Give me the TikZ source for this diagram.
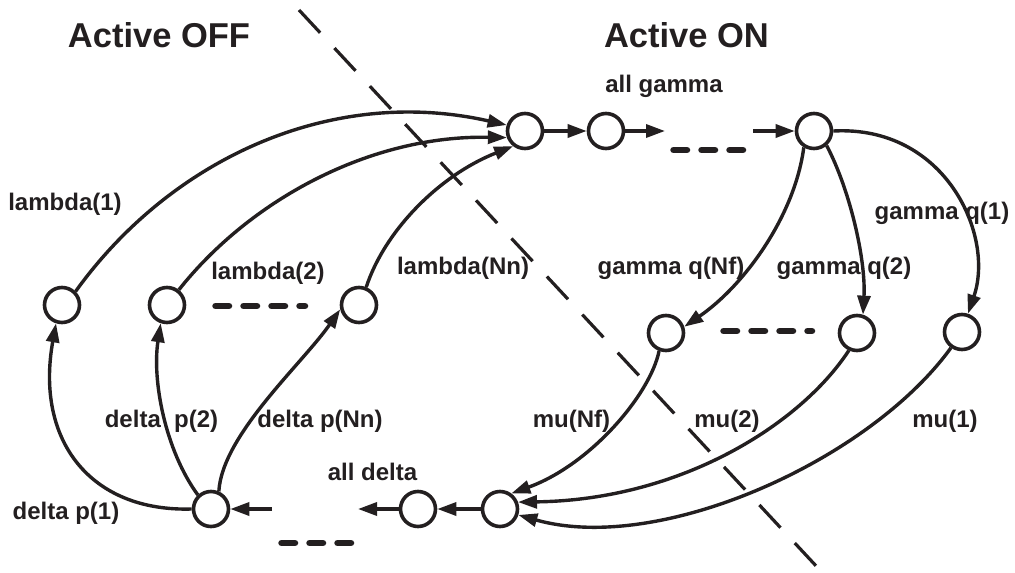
\documentclass[tikz,border=0pt]{standalone}
\usepackage{fontspec}
\setmainfont{Liberation Sans}
\usetikzlibrary{arrows.meta}
\definecolor{ink}{RGB}{35,31,32}
\begin{document}
\begin{tikzpicture}[x=1pt,y=-1pt,
  state/.style={circle,draw=ink,line width=3.6pt,minimum size=35pt,inner sep=0pt},
  flow/.style={draw=ink,line width=3.4pt,-{Triangle[length=19pt,width=13pt]}},
  gapdash/.style={draw=ink,line width=6.5pt,line cap=round,dash pattern=on 13.5pt off 14.5pt},
  divider/.style={draw=ink,line width=3.2pt,dash pattern=on 31pt off 21pt},
  lbl/.style={anchor=base,inner sep=0pt,text=ink,font=\fontsize{24}{28}\selectfont\bfseries},
  title/.style={anchor=base,inner sep=0pt,text=ink,font=\fontsize{34.5}{40}\selectfont\bfseries}]
\useasboundingbox (0,0) rectangle (1015,573);

% boundary between the two regimes
\coordinate (divTop) at (299,10);
\coordinate (divBot) at (818,568);
\draw[divider] (divTop) -- (divBot);

% states
\node[state] (A)   at (525,131) {};
\node[state] (B)   at (606,131) {};
\node[state] (C)   at (814,131) {};
\node[state] (L1)  at (62,305)  {};
\node[state] (L2)  at (167,305) {};
\node[state] (Ln)  at (359,305) {};
\node[state] (Fnf) at (666,333) {};
\node[state] (F2)  at (857,333) {};
\node[state] (F1)  at (962,332) {};
\node[state] (D)   at (211,509) {};
\node[state] (E)   at (418,509) {};
\node[state] (G)   at (500,509) {};

\coordinate (gEnd)   at (665,131);
\coordinate (gStart) at (753,131);
\coordinate (dEnd)   at (358,509);
\coordinate (dStart) at (272,509);

% chains of states
\draw[flow] (A) -- (B);
\draw[flow] (B) -- (gEnd);
\draw[flow] (gStart) -- (C);
\draw[flow] (G) -- (E);
\draw[flow] (E) -- (dEnd);
\draw[flow] (dStart) -- (D);

% omitted states
\draw[gapdash] (673.5,150) -- (743.5,150);
\draw[gapdash] (215.5,306) -- (305,306);
\draw[gapdash] (723.5,331) -- (812,331);
\draw[gapdash] (281.5,543) -- (351.5,543);

% OFF -> ON transitions
\draw[flow] (L1.45) .. controls (170,160) and (330,85) .. (A.162);
\draw[flow] (L2.52) .. controls (250,200) and (370,135) .. (A.200);
\draw[flow] (Ln.68) .. controls (385,230) and (440,175) .. (A.232);

% branching to the ON states
\draw[flow] (C.238) .. controls (795,215) and (745,285) .. (Fnf.19);
\draw[flow] (C.311) .. controls (850,190) and (866,260) .. (F2.72);
\draw[flow] (C.0) .. controls (945,125) and (995,235) .. (F1.72);

% ON -> OFF transitions
\draw[flow] (Fnf.249) .. controls (650,395) and (590,465) .. (G.54);
\draw[flow] (F2.245) .. controls (800,425) and (680,500) .. (G.21);
\draw[flow] (F1.235) .. controls (870,460) and (660,555) .. (G.342);

% branching to the OFF states
\draw[flow] (D.west) .. controls (90,512) and (35,440) .. (L1.252);
\draw[flow] (D.133) .. controls (165,450) and (152,380) .. (L2.251);
\draw[flow] (D.66) .. controls (222,435) and (303,363) .. (Ln.193);

% titles
\node[title] (tOff) at (159,47) {Active OFF};
\node[title] (tOn)  at (686.5,47) {Active ON};

% labels
\node[lbl] (allg) at (664,92)  {all gamma};
\node[lbl] (la1)  at (65,210)  {lambda(1)};
\node[lbl] (la2)  at (268,279) {lambda(2)};
\node[lbl] (lan)  at (463,274) {lambda(Nn)};
\node[lbl] (gqn)  at (671,274) {gamma q(Nf)};
\node[lbl] (gq2)  at (844,274) {gamma q(2)};
\node[lbl] (gq1)  at (942,219) {gamma q(1)};
\node[lbl] (mun)  at (571.5,427) {mu(Nf)};
\node[lbl] (mu2)  at (727,427) {mu(2)};
\node[lbl] (mu1)  at (945,427) {mu(1)};
\node[lbl] (dp2)  at (161.5,427) {delta\ \ p(2)};
\node[lbl] (dpn)  at (320,427) {delta p(Nn)};
\node[lbl] (dp1)  at (66,519) {delta p(1)};
\node[lbl] (alld) at (372.5,480) {all delta};
\end{tikzpicture}
\end{document}
